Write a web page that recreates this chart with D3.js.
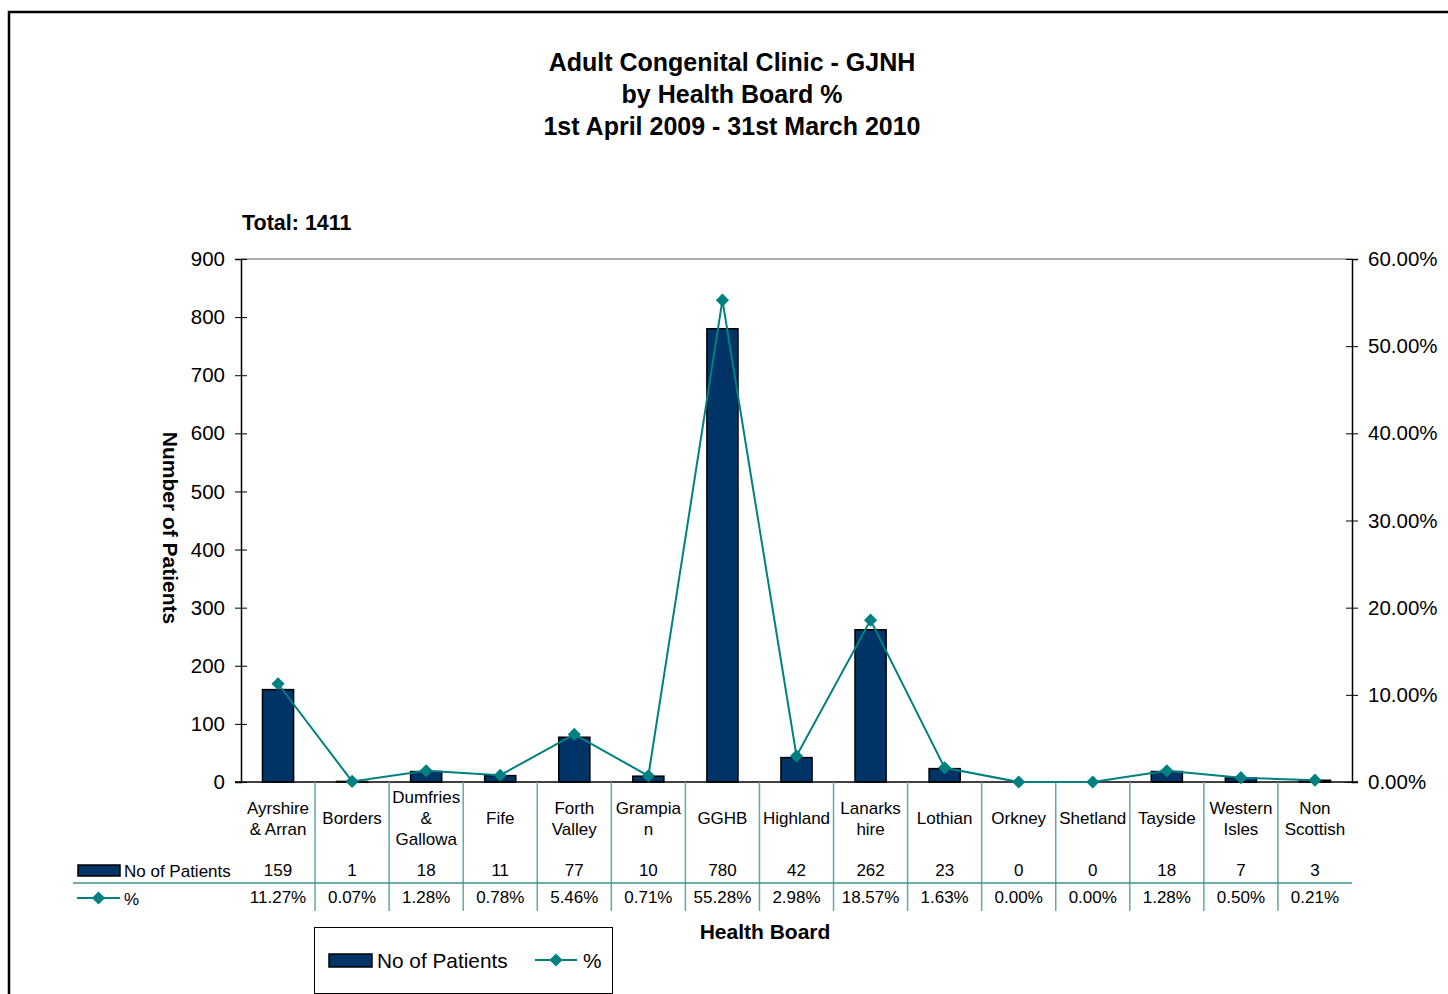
<!DOCTYPE html>
<html>
<head>
<meta charset="utf-8">
<script src="https://cdn.jsdelivr.net/npm/d3@7"></script>
<style>
  html, body { margin: 0; padding: 0; background: #fff; }
  svg { display: block; font-family: "Liberation Sans", Arial, sans-serif; }
</style>
</head>
<body>
<svg id="chart" width="1448" height="994"></svg>
<script>
// Health boards (label lines as shown under each column)
const boards = [
  ["Ayrshire", "& Arran"], ["Borders"], ["Dumfries", "&", "Gallowa"], ["Fife"],
  ["Forth", "Valley"], ["Grampia", "n"], ["GGHB"], ["Highland"], ["Lanarks", "hire"],
  ["Lothian"], ["Orkney"], ["Shetland"], ["Tayside"], ["Western", "Isles"], ["Non", "Scottish"]
];
const patients = [159, 1, 18, 11, 77, 10, 780, 42, 262, 23, 0, 0, 18, 7, 3];
const percents = [11.27, 0.07, 1.28, 0.78, 5.46, 0.71, 55.28, 2.98, 18.57, 1.63, 0.00, 0.00, 1.28, 0.50, 0.21];
const leftTicks = [0, 100, 200, 300, 400, 500, 600, 700, 800, 900];
const rightTicks = [0, 10, 20, 30, 40, 50, 60];
const titleLines = ["Adult Congenital Clinic - GJNH", "by Health Board %", "1st April 2009 - 31st March 2010"];
const totalLabel = "Total: 1411";

const barColor = "#003366";
const lineColor = "#008080";
const gridTeal = "#5fa9a9";

const svg = d3.select("#chart");
const plot = { left: 241, right: 1352, top: 259, bottom: 782 };

// outer frame
svg.append("rect")
  .attr("x", 9).attr("y", 12).attr("width", 1460).attr("height", 1000)
  .attr("fill", "none").attr("stroke", "#000").attr("stroke-width", 2.5);

// titles
svg.selectAll("text.title").data(titleLines).join("text")
  .attr("class", "title")
  .attr("x", 732).attr("y", (d, i) => 71 + i * 32)
  .attr("text-anchor", "middle")
  .attr("font-size", 25).attr("font-weight", "bold")
  .text(d => d);

svg.append("text")
  .attr("x", 242).attr("y", 230)
  .attr("font-size", 21.5).attr("font-weight", "bold")
  .text(totalLabel);

const idx = d3.range(boards.length);
const x = d3.scaleBand().domain(idx).range([plot.left, plot.right]).paddingInner(0).paddingOuter(0);
const yL = d3.scaleLinear().domain([0, 900]).range([plot.bottom, plot.top]);
const yR = d3.scaleLinear().domain([0, 60]).range([plot.bottom, plot.top]);

// top border of plot area
svg.append("line")
  .attr("x1", plot.left).attr("x2", plot.right)
  .attr("y1", plot.top).attr("y2", plot.top)
  .attr("stroke", "#8c8c8c").attr("stroke-width", 1.5);

// bars
const bw = x.bandwidth() * 0.42;
svg.append("g").selectAll("rect").data(idx).join("rect")
  .attr("x", i => x(i) + (x.bandwidth() - bw) / 2)
  .attr("y", i => yL(patients[i]))
  .attr("width", bw)
  .attr("height", i => plot.bottom - yL(patients[i]))
  .attr("fill", barColor)
  .attr("stroke", "#000").attr("stroke-width", 1.5);

// left axis
const gL = svg.append("g").attr("transform", `translate(${plot.left},0)`)
  .call(d3.axisLeft(yL).tickValues(leftTicks).tickSize(6).tickPadding(10).tickFormat(d3.format("d")));
gL.select(".domain").attr("stroke", "#000").attr("stroke-width", 1.5);
gL.selectAll(".tick line").attr("x2", 6).attr("x1", -6).attr("stroke", "#000");
gL.selectAll(".tick text").attr("font-size", 20.5).attr("font-family", "Liberation Sans, Arial, sans-serif").attr("fill", "#000");

// right axis
const gR = svg.append("g").attr("transform", `translate(${plot.right},0)`)
  .call(d3.axisRight(yR).tickValues(rightTicks).tickSize(6).tickPadding(10).tickFormat(d => d.toFixed(2) + "%"));
gR.select(".domain").attr("stroke", "#000").attr("stroke-width", 1.5);
gR.selectAll(".tick line").attr("x1", -6).attr("x2", 6).attr("stroke", "#000");
gR.selectAll(".tick text").attr("font-size", 20.5).attr("font-family", "Liberation Sans, Arial, sans-serif").attr("fill", "#000");

// bottom baseline
svg.append("line")
  .attr("x1", plot.left - 6).attr("x2", plot.right + 6)
  .attr("y1", plot.bottom).attr("y2", plot.bottom)
  .attr("stroke", "#000").attr("stroke-width", 1.5);

// data table grid
const tbl = svg.append("g");
tbl.selectAll("line.v").data(d3.range(1, boards.length)).join("line")
  .attr("class", "v")
  .attr("x1", i => x(i)).attr("x2", i => x(i))
  .attr("y1", plot.bottom).attr("y2", 911)
  .attr("stroke", gridTeal).attr("stroke-width", 1.5);
tbl.append("line")
  .attr("x1", 73).attr("x2", plot.right)
  .attr("y1", 883).attr("y2", 883)
  .attr("stroke", "#3a9090").attr("stroke-width", 1.5);

// category labels
const cx = i => x(i) + x.bandwidth() / 2;
tbl.selectAll("text.cat").data(idx).join("text")
  .attr("class", "cat")
  .attr("x", cx)
  .attr("text-anchor", "middle")
  .attr("font-size", 17)
  .each(function (i) {
    const lines = boards[i];
    const t = d3.select(this);
    const y0 = 824 - (lines.length - 1) * 21 / 2;
    lines.forEach((s, k) => {
      t.append("tspan").attr("x", cx(i)).attr("y", y0 + k * 21).text(s);
    });
  });

// values rows
tbl.selectAll("text.cnt").data(idx).join("text")
  .attr("class", "cnt")
  .attr("x", cx).attr("y", 876)
  .attr("text-anchor", "middle").attr("font-size", 17)
  .text(i => patients[i]);
tbl.selectAll("text.pct").data(idx).join("text")
  .attr("class", "pct")
  .attr("x", cx).attr("y", 903)
  .attr("text-anchor", "middle").attr("font-size", 17)
  .text(i => percents[i].toFixed(2) + "%");

// table row keys
const diamond = d3.symbol().type(d3.symbolDiamond2).size(110);
tbl.append("rect").attr("x", 78).attr("y", 865).attr("width", 42).attr("height", 11)
  .attr("fill", barColor).attr("stroke", "#000").attr("stroke-width", 1.5);
tbl.append("text").attr("x", 124).attr("y", 877).attr("font-size", 17).text("No of Patients");
tbl.append("line").attr("x1", 77).attr("x2", 120).attr("y1", 898).attr("y2", 898)
  .attr("stroke", lineColor).attr("stroke-width", 2);
tbl.append("path").attr("d", diamond).attr("transform", "translate(98.5,898)").attr("fill", lineColor);
tbl.append("text").attr("x", 124).attr("y", 905).attr("font-size", 17).text("%");

// percentage line
const line = d3.line().x(i => cx(i)).y(i => yR(percents[i]));
svg.append("path").datum(idx)
  .attr("d", line)
  .attr("fill", "none").attr("stroke", lineColor).attr("stroke-width", 2);
svg.append("g").selectAll("path").data(idx).join("path")
  .attr("d", diamond)
  .attr("transform", i => `translate(${cx(i)},${yR(percents[i])})`)
  .attr("fill", lineColor);

// axis titles
svg.append("text")
  .attr("transform", "translate(163,528) rotate(90)")
  .attr("text-anchor", "middle")
  .attr("font-size", 21).attr("font-weight", "bold")
  .text("Number of Patients");
svg.append("text")
  .attr("x", 765).attr("y", 939)
  .attr("text-anchor", "middle")
  .attr("font-size", 21).attr("font-weight", "bold")
  .text("Health Board");

// legend
const lg = svg.append("g");
lg.append("rect").attr("x", 314.5).attr("y", 927.5).attr("width", 298).attr("height", 66)
  .attr("fill", "#fff").attr("stroke", "#000").attr("stroke-width", 1);
lg.append("rect").attr("x", 329).attr("y", 954).attr("width", 43).attr("height", 13)
  .attr("fill", barColor).attr("stroke", "#000").attr("stroke-width", 1.5);
lg.append("text").attr("x", 377).attr("y", 968).attr("font-size", 20.8).text("No of Patients");
lg.append("line").attr("x1", 535).attr("x2", 577).attr("y1", 960).attr("y2", 960)
  .attr("stroke", lineColor).attr("stroke-width", 2);
lg.append("path").attr("d", diamond).attr("transform", "translate(556,960)").attr("fill", lineColor);
lg.append("text").attr("x", 583).attr("y", 968).attr("font-size", 20.8).text("%");
</script>
</body>
</html>
